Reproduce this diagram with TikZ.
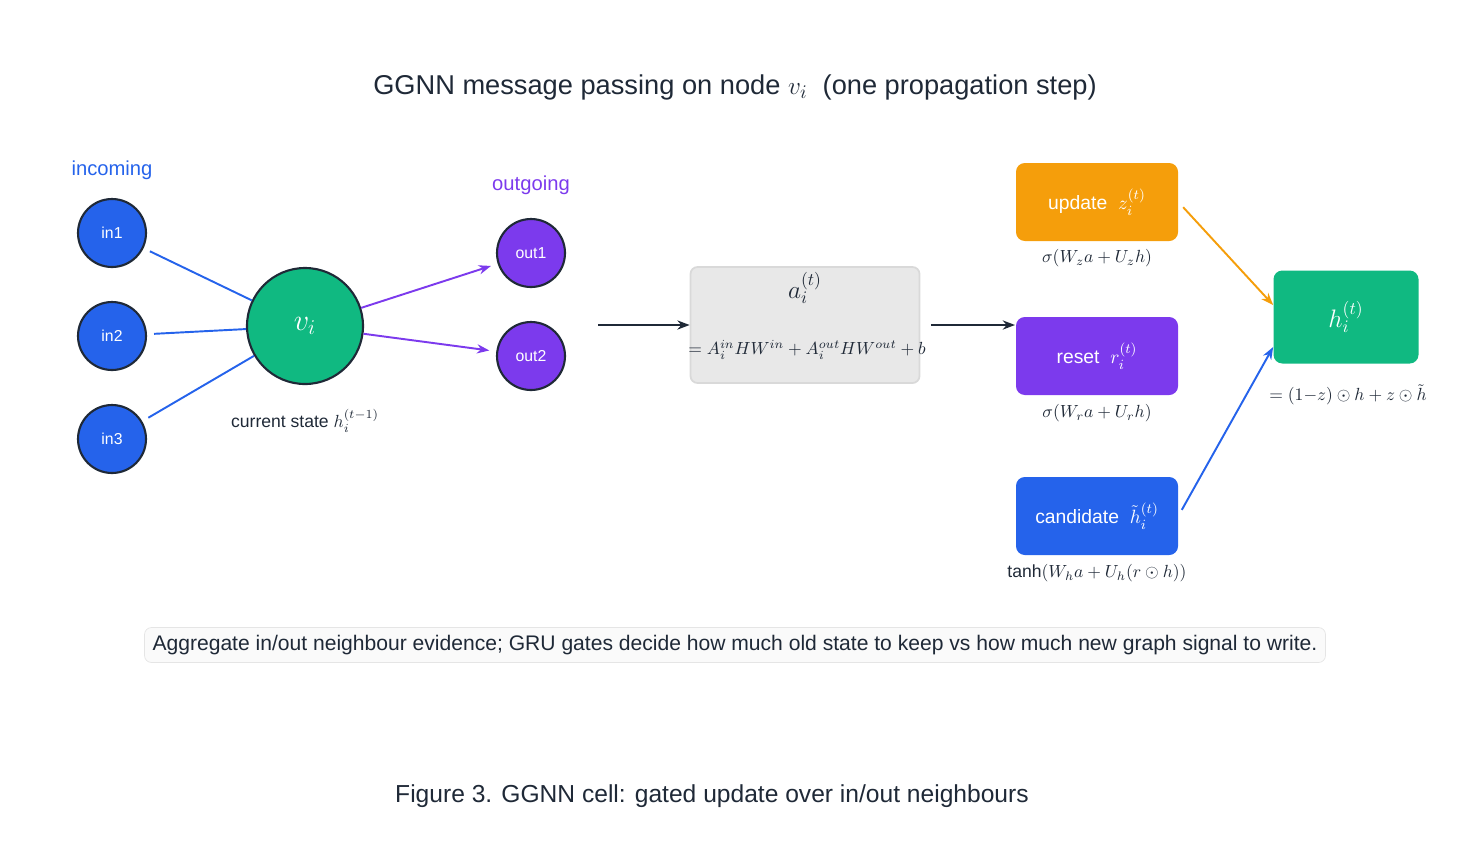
\documentclass[tikz,border=0pt]{standalone}
\usepackage{fontspec}
\setmainfont{Liberation Sans}
\usetikzlibrary{arrows.meta}
\definecolor{inkc}{HTML}{1F2937}
\definecolor{blu}{HTML}{2563EB}
\definecolor{pur}{HTML}{7C3AED}
\definecolor{grn}{HTML}{10B981}
\definecolor{orn}{HTML}{F59E0B}
\tikzset{
  nbr/.style={circle, draw=inkc, line width=1.2pt, minimum size=68\px, inner sep=0pt, text=white, font=\small},
  gate/.style={rounded corners=5pt, minimum width=162\px, minimum height=78\px, text=white, inner sep=0pt, font=\fontsize{11}{13}\selectfont},
  lbl/.style={font=\fontsize{10}{12}\selectfont, text=inkc},
  arr/.style={-{Stealth[length=7pt]}, line width=1.1pt}
}
\newcommand{\px}{*0.02cm}
\begin{document}
\begin{tikzpicture}[x=0.02cm, y=-0.02cm]
  \useasboundingbox (0,0) rectangle (1470,846);
  \node[text=inkc, font=\fontsize{15.5}{18}\selectfont] (title) at (735,87) {GGNN message passing on node $v_i$\ \ (one propagation step)};
  \node[text=blu, font=\fontsize{11.5}{14}\selectfont] (inlbl) at (112,170) {incoming};
  \node[text=pur, font=\fontsize{11.5}{14}\selectfont] (outlbl) at (531,185) {outgoing};
  \node[nbr, fill=blu] (in1) at (112,233) {in1};
  \node[nbr, fill=blu] (in2) at (112,336) {in2};
  \node[nbr, fill=blu] (in3) at (112,439) {in3};
  \node[nbr, fill=grn, minimum size=116\px, font=\LARGE] (v) at (305,326) {$v_i$};
  \node[nbr, fill=pur] (out1) at (531,253) {out1};
  \node[nbr, fill=pur] (out2) at (531,356) {out2};
  \foreach \n in {in1,in2,in3} {
    \draw[blu, line width=1.1pt, shorten <=4pt] (\n) -- (v);
  }
  \draw[arr, pur, shorten >=4pt] (v) -- (out1);
  \draw[arr, pur, shorten >=4pt] (v) -- (out2);
  \node[lbl] (cur) at (305,421) {current state $h_i^{(t-1)}$};
  % aggregation
  \node[draw=gray!30, fill=gray!18, line width=1pt, rounded corners=4pt, minimum width=229\px, minimum height=116\px] (agg) at (805,325) {};
  \node[text=inkc, font=\Large] (aval) at (805,288) {$a_i^{(t)}$};
  \node[lbl] (aeq) at (807,350) {$= A_i^{in}HW^{in} + A_i^{out}HW^{out} + b$};
  \coordinate (ain) at (598,325);
  \coordinate (rin) at (1015,325);
  \draw[arr, inkc] (ain) -- (agg);
  % gates
  \node[gate, fill=orn] (upd) at (1097,202) {update\ \ $z_i^{(t)}$};
  \node[gate, fill=pur] (rst) at (1097,356) {reset\ \ $r_i^{(t)}$};
  \node[gate, fill=blu] (cand) at (1097,516) {candidate\ \ $\tilde h_i^{(t)}$};
  \node[gate, fill=grn, minimum width=145\px, minimum height=93\px, font=\Large] (h) at (1346,317) {$h_i^{(t)}$};
  \draw[arr, inkc, shorten <=6pt] (agg.east) -- (rin);
  \node[lbl] at (1097,258) {$\sigma(W_z a + U_z h)$};
  \node[lbl] at (1097,413) {$\sigma(W_r a + U_r h)$};
  \node[lbl] at (1097,573) {$\tanh(W_h a + U_h(r \odot h))$};
  \node[lbl] at (1348,395) {$= (1{-}z)\odot h + z \odot \tilde h$};
  \draw[arr, orn, shorten <=4pt] (upd.east) -- (h.north west |- 0,305);
  \draw[arr, blu, shorten <=4pt] (cand.east) -- (h.south west |- 0,347);
  % note and caption
  \node[draw=gray!20, fill=gray!4, rounded corners=4pt, minimum width=1181\px, minimum height=35\px, text=inkc, font=\fontsize{12}{14}\selectfont] (note) at (735,645) {Aggregate in/out neighbour evidence; GRU gates decide how much old state to keep vs how much new graph signal to write.};
  \node[text=inkc, font=\fontsize{14}{17}\selectfont] (cap) at (712,796) {Figure 3. GGNN cell: gated update over in/out neighbours};
\end{tikzpicture}
\end{document}
